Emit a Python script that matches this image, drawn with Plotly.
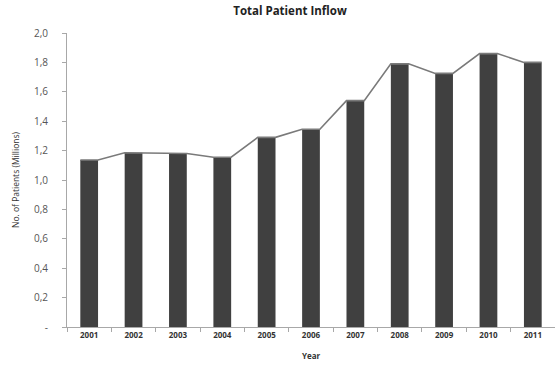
import plotly.graph_objects as go

years = ["2001", "2002", "2003", "2004", "2005", "2006", "2007", "2008", "2009", "2010", "2011"]
patients = [1.136, 1.185, 1.18, 1.155, 1.29, 1.345, 1.54, 1.79, 1.725, 1.86, 1.80]
y_ticks = [0, 0.2, 0.4, 0.6, 0.8, 1.0, 1.2, 1.4, 1.6, 1.8, 2.0]
y_labels = ["-", "0,2", "0,4", "0,6", "0,8", "1,0", "1,2", "1,4", "1,6", "1,8", "2,0"]

BW = 0.4
xs = list(range(len(years)))
lx, ly = [], []
for i, v in zip(xs, patients):
    lx += [i - BW / 2, i + BW / 2]
    ly += [v, v]

fig = go.Figure()
fig.add_trace(go.Bar(x=xs, y=patients, width=BW, marker=dict(color="#404040", line=dict(width=0)),
                     showlegend=False, hoverinfo="skip"))
fig.add_trace(go.Scatter(x=lx, y=ly, mode="lines", line=dict(color="#7a7a7a", width=1.6),
                         showlegend=False, hoverinfo="skip"))

font = "Open Sans"
fig.update_layout(
    width=555, height=383,
    margin=dict(l=67, r=0, t=33, b=56),
    paper_bgcolor="white", plot_bgcolor="white",
    title=dict(text="<b>Total Patient Inflow</b>", x=290 / 555, xanchor="center",
               y=1 - 11 / 383, yanchor="middle", font=dict(family=font, size=11.5, color="#222")),
    font=dict(family=font, color="#444"),
    xaxis=dict(range=[-0.5, 10.5], tickvals=xs, ticktext=[f"<b>{y}</b>" for y in years],
               ticks="", showgrid=False, zeroline=False, showline=True, linecolor="#a8a8a8", linewidth=1,
               tickfont=dict(size=8, color="#333"),
               minor=dict(ticks="outside", tick0=-0.5, dtick=1, ticklen=4, tickcolor="#a8a8a8", showgrid=False),
               title=dict(text="<b>Year</b>", font=dict(size=8, color="#333"), standoff=14)),
    yaxis=dict(range=[0, 2.0], tickvals=y_ticks, ticktext=y_labels, ticks="outside", ticklen=4,
               tickcolor="#a8a8a8", showgrid=False, zeroline=False, showline=True, linecolor="#a8a8a8",
               linewidth=1, tickfont=dict(size=10, color="#555"), ticklabelstandoff=12,
               title=dict(text="No. of Patients (Millions)", font=dict(size=8.5, color="#333"), standoff=12)),
)

fig.write_html("out.html")
